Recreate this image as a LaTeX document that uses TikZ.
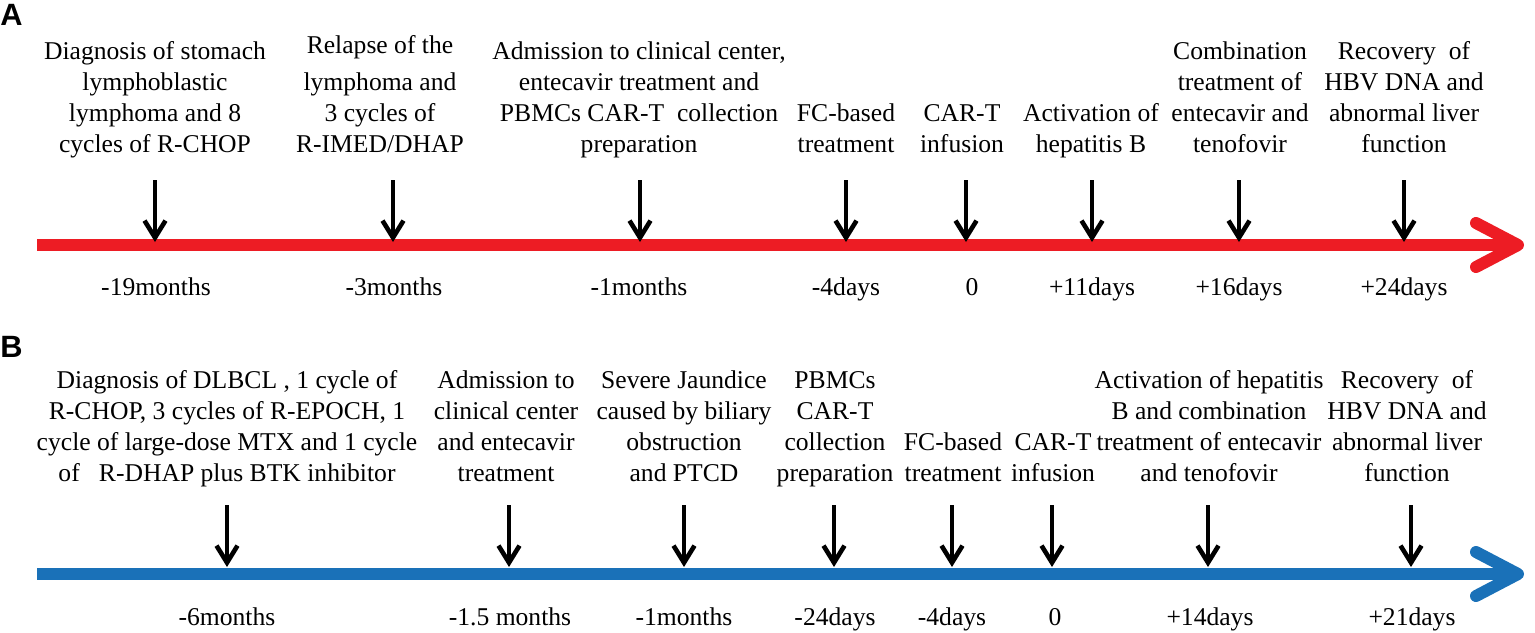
\documentclass[tikz,border=0pt]{standalone}
\usepackage{fontspec}
\setmainfont{Liberation Serif}
\newfontfamily\panelfont{Liberation Sans}
\usetikzlibrary{arrows.meta}
\definecolor{tlred}{RGB}{237,28,36}
\definecolor{tlblue}{RGB}{26,113,184}
\tikzset{
  evtext/.style={align=center, anchor=south, inner sep=0pt, text depth=3pt,
                 font=\fontsize{12.8}{15.5}\selectfont},
  timelabel/.style={anchor=base, inner sep=0pt, font=\fontsize{12.8}{15.5}\selectfont},
  evarrow/.style={line width=2.3pt, black, -{Straight Barb[length=8.5pt,width=10.5pt]}},
  panellabel/.style={anchor=base west, inner sep=0pt, font=\panelfont\bfseries\fontsize{15.4}{18}\selectfont},
  timeline/.style={line width=6pt, -{Straight Barb[length=21pt,width=22pt,round]}}
}
\begin{document}
\begin{tikzpicture}[x=0.5pt,y=-0.5pt]
\useasboundingbox (0,0) rectangle (1535,632);

% ---------------- Panel A ----------------
\node[panellabel] (pA) at (0,25) {A};
\coordinate (tA0) at (37,245);
\coordinate (tA1) at (1524,245);
\draw[timeline, tlred] (tA0) -- (tA1);

\node[evtext] (eA1) at (155,159) {Diagnosis of stomach\\lymphoblastic\\lymphoma and 8\\cycles of R-CHOP};
\node[evtext] (eA2) at (380,159) {Relapse of the\\[3pt]lymphoma and\\3 cycles of\\R-IMED/DHAP};
\node[evtext] (eA3) at (639,159) {Admission to clinical center,\\entecavir treatment and\\PBMCs CAR-T\ \ collection\\preparation};
\node[evtext] (eA4) at (846,159) {FC-based\\treatment};
\node[evtext] (eA5) at (962,159) {CAR-T\\infusion};
\node[evtext] (eA6) at (1091,159) {Activation of\\hepatitis B};
\node[evtext] (eA7) at (1240,159) {Combination\\treatment of\\entecavir and\\tenofovir};
\node[evtext] (eA8) at (1404,159) {Recovery\ \ of\\HBV DNA and\\abnormal liver\\function};

\foreach \i/\x in {1/155,2/393,3/640,4/846,5/966,6/1092,7/1239,8/1404}{
  \coordinate (aA\i s) at (\x,180);
  \coordinate (aA\i e) at (\x,242);
  \draw[evarrow] (aA\i s) -- (aA\i e);
}

\node[timelabel] (dA1) at (156,295) {-19months};
\node[timelabel] (dA2) at (394,295) {-3months};
\node[timelabel] (dA3) at (639,295) {-1months};
\node[timelabel] (dA4) at (846,295) {-4days};
\node[timelabel] (dA5) at (972,295) {0};
\node[timelabel] (dA6) at (1092,295) {+11days};
\node[timelabel] (dA7) at (1239,295) {+16days};
\node[timelabel] (dA8) at (1404,295) {+24days};

% ---------------- Panel B ----------------
\node[panellabel] (pB) at (0,357) {B};
\coordinate (tB0) at (37,574);
\coordinate (tB1) at (1524,574);
\draw[timeline, tlblue] (tB0) -- (tB1);

\node[evtext] (eB1) at (227,488) {Diagnosis of DLBCL , 1 cycle of\\R-CHOP, 3 cycles of R-EPOCH, 1\\cycle of large-dose MTX and 1 cycle\\of\ \ \ R-DHAP plus BTK inhibitor};
\node[evtext] (eB2) at (506,488) {Admission to\\clinical center\\and entecavir\\treatment};
\node[evtext] (eB3) at (684,488) {Severe Jaundice\\caused by biliary\\obstruction\\and PTCD};
\node[evtext] (eB4) at (835,488) {PBMCs\\CAR-T\\collection\\preparation};
\node[evtext] (eB5) at (953,488) {FC-based\\treatment};
\node[evtext] (eB6) at (1053,488) {CAR-T\\infusion};
\node[evtext] (eB7) at (1209,488) {Activation of hepatitis\\B and combination\\treatment of entecavir\\and tenofovir};
\node[evtext] (eB8) at (1407,488) {Recovery\ \ of\\HBV DNA and\\abnormal liver\\function};

\foreach \i/\x in {1/227,2/509,3/684,4/834,5/952,6/1052,7/1208,8/1411}{
  \coordinate (aB\i s) at (\x,505);
  \coordinate (aB\i e) at (\x,567);
  \draw[evarrow] (aB\i s) -- (aB\i e);
}

\node[timelabel] (dB1) at (227,625) {-6months};
\node[timelabel] (dB2) at (510,625) {-1.5 months};
\node[timelabel] (dB3) at (684,625) {-1months};
\node[timelabel] (dB4) at (835,625) {-24days};
\node[timelabel] (dB5) at (952,625) {-4days};
\node[timelabel] (dB6) at (1055,625) {0};
\node[timelabel] (dB7) at (1210,625) {+14days};
\node[timelabel] (dB8) at (1412,625) {+21days};
\end{tikzpicture}
\end{document}
